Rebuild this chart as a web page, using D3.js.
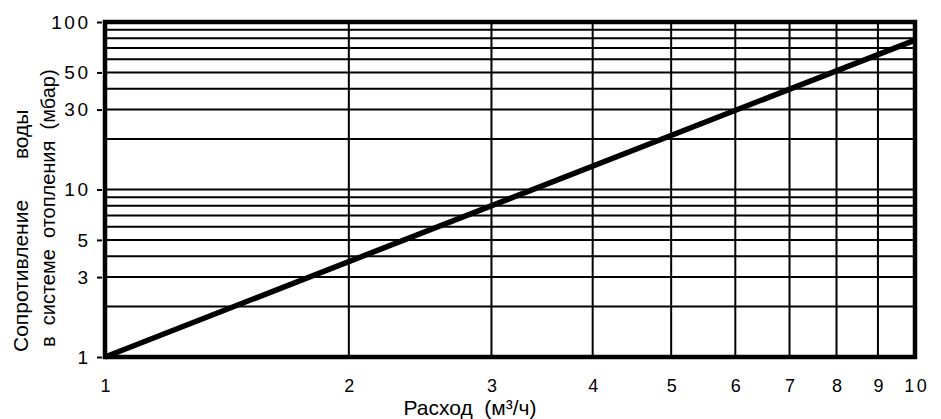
<!DOCTYPE html>
<html>
<head>
<meta charset="utf-8">
<script src="https://cdn.jsdelivr.net/npm/d3@7"></script>
<style>
  html, body { margin: 0; padding: 0; background: #fff; }
  svg { display: block; }
  text { font-family: "Liberation Sans", Arial, sans-serif; fill: #000; }
</style>
</head>
<body>
<svg id="chart" width="941" height="419"></svg>
<script>
// ---- data ----
const flowTicks = [1, 2, 3, 4, 5, 6, 7, 8, 9, 10];
const resistanceTickLabels = [1, 3, 5, 10, 30, 50, 100];
const resistanceGrid = [2, 3, 4, 5, 6, 7, 8, 9, 10, 20, 30, 40, 50, 60, 70, 80, 90];
const flowValues = [1, 10];
const resistanceValues = [1, 78];
const xTitle = "Расход  (м³/ч)";
const yTitle1 = "Сопротивление       воды";
const yTitle2 = "в  системе  отопления  (мбар)";

// ---- layout ----
const L = 105, R = 915, T = 22, B = 357;
const svg = d3.select("#chart");

const x = d3.scaleLog().domain([1, 10]).range([L, R]);
const y = d3.scaleLog().domain([1, 100]).range([B, T]);

// horizontal grid
svg.append("g").selectAll("line").data(resistanceGrid).join("line")
  .attr("x1", L).attr("x2", R)
  .attr("y1", d => y(d)).attr("y2", d => y(d))
  .attr("stroke", "#000").attr("stroke-width", 2);

// vertical grid
svg.append("g").selectAll("line").data(flowTicks.slice(1, -1)).join("line")
  .attr("y1", T).attr("y2", B)
  .attr("x1", d => x(d)).attr("x2", d => x(d))
  .attr("stroke", "#000").attr("stroke-width", 2);

// frame
svg.append("rect")
  .attr("x", L).attr("y", T).attr("width", R - L).attr("height", B - T)
  .attr("fill", "none").attr("stroke", "#000").attr("stroke-width", 4.5);

// data line
svg.append("path")
  .datum(flowValues.map((f, i) => [f, resistanceValues[i]]))
  .attr("d", d3.line().x(d => x(d[0])).y(d => y(d[1])))
  .attr("fill", "none").attr("stroke", "#000").attr("stroke-width", 5.5);

const LS = 2.5; // letter spacing of tick labels

// y axis
const yAxis = svg.append("g")
  .attr("transform", `translate(${L - 3},0)`)
  .call(d3.axisLeft(y).tickValues(resistanceTickLabels).tickSize(5).tickPadding(9).tickFormat(d3.format("d")));
yAxis.select(".domain").remove();
yAxis.selectAll(".tick line").attr("stroke", "#000").attr("stroke-width", 2);
yAxis.selectAll(".tick text").style("font-size", "19px").style("letter-spacing", LS + "px")
  .attr("dx", LS).style("font-family", "Liberation Sans, Arial, sans-serif").attr("fill", "#000");

// x axis
const xAxis = svg.append("g")
  .attr("transform", `translate(0,${B})`)
  .call(d3.axisBottom(x).tickValues(flowTicks).tickSize(0).tickPadding(22).tickFormat(d3.format("d")));
xAxis.select(".domain").remove();
xAxis.selectAll(".tick text").style("font-size", "18px").style("letter-spacing", LS + "px")
  .attr("dx", LS / 2).style("font-family", "Liberation Sans, Arial, sans-serif").attr("fill", "#000");

// titles
svg.append("text")
  .attr("x", 470).attr("y", 415)
  .attr("text-anchor", "middle")
  .style("font-size", "21px").style("white-space", "pre")
  .text(xTitle);

svg.append("text")
  .attr("transform", "translate(28,352) rotate(-90)")
  .attr("text-anchor", "start")
  .style("font-size", "21px").style("white-space", "pre")
  .text(yTitle1);

svg.append("text")
  .attr("transform", "translate(55,347) rotate(-90)")
  .attr("text-anchor", "start")
  .style("font-size", "20px").style("white-space", "pre")
  .text(yTitle2);
</script>
</body>
</html>
